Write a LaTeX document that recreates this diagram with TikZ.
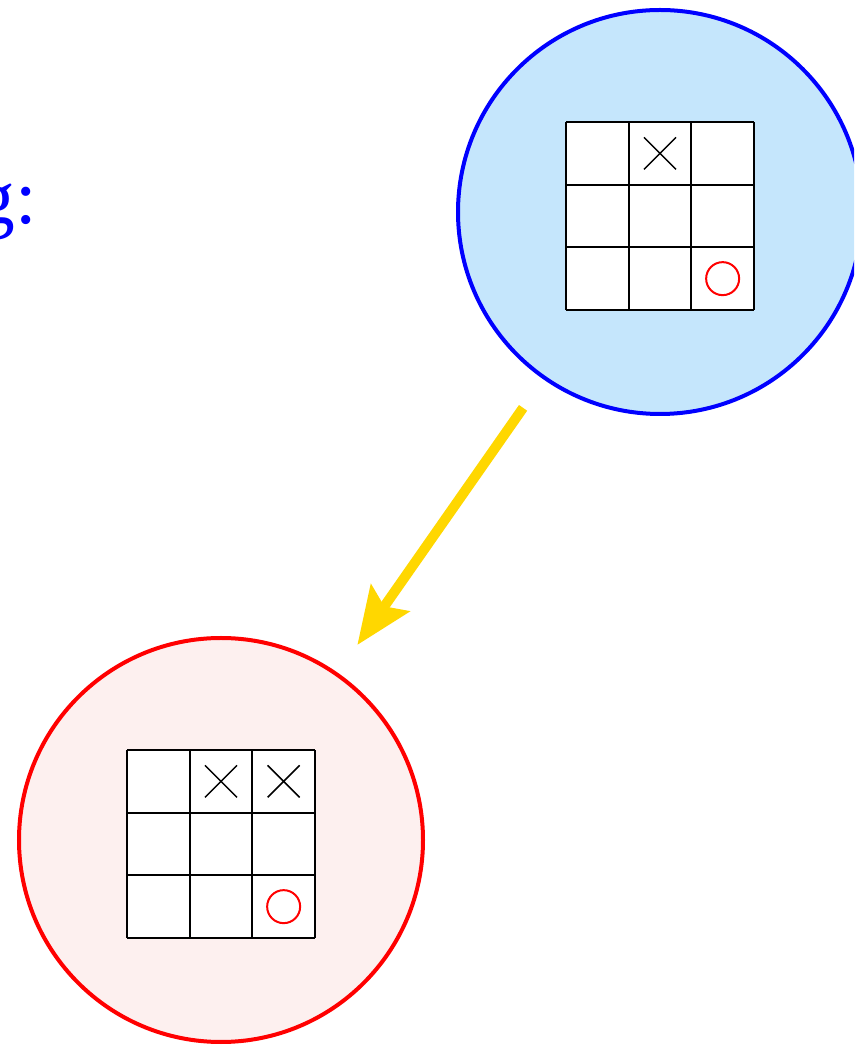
\documentclass[tikz,border=0pt]{standalone}
\usepackage{fontspec}
\usepackage{xcolor}
\usepackage{tikz}
\usetikzlibrary{arrows.meta,positioning}
\newfontfamily\labelfont{Liberation Serif}
\definecolor{skyfill}{RGB}{197,230,252}
\definecolor{rosefill}{RGB}{253,240,239}
\definecolor{movegold}{RGB}{255,215,0}

\begin{document}
\begin{tikzpicture}[x=1cm,y=1cm,
	bubble/.style={circle,inner sep=0pt,minimum size=8.08cm,line width=0.08cm},
	board/.style={draw=black,line width=0.04cm,step=1.2533cm},
	xmark/.style={black,line width=0.03cm},
	omark/.style={red,line width=0.04cm},
	move/.style={-{Stealth[length=11.4mm,width=9.3mm,inset=2mm]},movegold,line width=0.2cm,
		shorten <=0.7cm,shorten >=0.68cm}]
	\useasboundingbox (0,0) rectangle (17.08,20.92);
	\clip (0,0) rectangle (17.08,20.92);
	\node[anchor=base east,inner sep=0pt,text=blue,font=\labelfont\fontsize{44}{48}\selectfont] (label) at (0.74,16.44) {g:};
	
	% Current position and the position after the move.
	\node[bubble,draw=blue,fill=skyfill] (cur) at (13.20,16.68) {};
	\node[bubble,draw=red,fill=rosefill] (next) at (4.42,4.12) {};
	
	\begin{scope}[shift={(cur)},shift={(-1.88,-1.96)}]
		\fill[white] (0,0) rectangle (3.76,3.76);
		\draw[board] (0,0) grid (3.76,3.76);
		\draw[xmark] (1.56,2.813)--(2.20,3.453) (1.56,3.453)--(2.20,2.813);
		\draw[omark] (3.133,0.627) circle (0.33);
	\end{scope}
	\begin{scope}[shift={(next)},shift={(-1.88,-1.96)}]
		\fill[white] (0,0) rectangle (3.76,3.76);
		\draw[board] (0,0) grid (3.76,3.76);
		\foreach \x in {1.88,3.133}{
			\draw[xmark] (\x-0.32,2.813)--(\x+0.32,3.453) (\x-0.32,3.453)--(\x+0.32,2.813);
		}
		\draw[omark] (3.133,0.627) circle (0.33);
	\end{scope}
	
	\draw[move] (cur) -- (next);
\end{tikzpicture}
\end{document}
